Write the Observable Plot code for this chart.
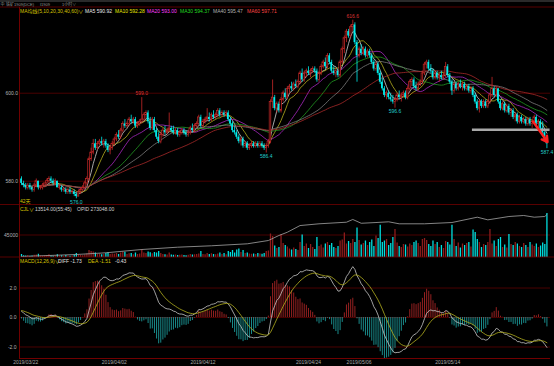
<!DOCTYPE html>
<html><head><meta charset="utf-8">
<script src="https://cdn.jsdelivr.net/npm/d3@7"></script>
<script src="https://cdn.jsdelivr.net/npm/@observablehq/plot@0.6"></script>
<style>
html,body{margin:0;padding:0;background:#000;}
#c{position:relative;width:554px;height:366px;background:#000;overflow:hidden;}
#c svg{position:absolute;left:0;}
</style></head><body><div id="c"></div>
<script>
const FONT = '"Liberation Sans","Noto Sans CJK SC",sans-serif';
// [open, high, low, close] per hourly bar
const bars = [
[580.5,581.0,579.0,579.5],[579.5,580.0,578.5,579.0],[579.0,579.5,578.0,578.5],[578.5,579.5,578.0,579.0],[579.0,579.5,578.0,578.5],
[578.5,579.0,577.5,578.0],[578.0,579.5,577.5,579.0],[579.0,580.5,578.5,580.0],[580.0,580.0,578.0,578.5],[578.5,579.0,578.0,578.5],
[578.5,579.5,578.0,579.0],[579.0,579.5,578.5,579.5],[579.5,580.5,579.0,580.0],[580.0,581.0,579.5,580.5],[580.5,581.0,579.5,580.0],
[580.0,580.5,579.0,579.5],[579.5,580.5,579.0,580.0],[580.0,580.0,578.5,578.5],[578.5,579.0,578.0,578.5],[578.5,579.0,577.5,578.0],
[578.0,578.5,577.5,578.0],[578.0,578.5,577.0,577.5],[577.5,578.5,577.0,578.0],[578.0,578.5,577.0,577.5],[577.5,578.0,577.0,577.5],
[577.5,578.0,576.5,577.0],[577.0,577.5,576.0,576.5],[576.5,578.0,576.5,577.5],[577.5,578.5,577.0,578.0],[578.0,579.0,577.5,578.5],
[578.5,580.0,578.0,579.5],[579.5,581.0,579.0,580.5],[580.5,585.5,580.0,585.0],[585.0,587.5,584.5,586.5],[586.5,589.5,586.0,588.5],
[588.5,589.5,587.0,587.5],[587.5,589.0,587.0,588.5],[588.5,589.5,588.0,589.0],[589.0,590.0,588.0,588.5],[588.5,589.5,587.5,589.0],
[589.0,589.5,587.5,588.0],[588.0,588.5,586.5,587.0],[587.0,588.0,586.0,587.5],[587.5,589.0,587.0,588.5],[588.5,590.0,588.0,589.5],
[589.5,591.0,589.0,590.5],[590.5,591.5,589.5,590.0],[590.0,592.0,589.5,591.5],[591.5,593.5,591.0,593.0],[593.0,594.0,592.0,592.5],
[592.5,593.5,592.0,593.0],[593.0,594.5,592.5,594.0],[594.0,595.0,593.0,593.5],[593.5,594.5,593.0,594.0],[594.0,594.5,592.0,592.5],
[592.5,593.5,592.0,593.0],[593.0,594.0,592.5,593.5],[593.5,599.0,593.0,594.0],[594.0,595.5,593.5,595.0],[595.0,596.0,594.0,595.5],
[595.5,596.0,593.0,593.5],[593.5,594.5,591.5,592.0],[592.0,594.5,591.5,594.0],[594.0,594.5,591.0,591.5],[591.5,592.0,589.5,590.0],
[590.0,591.0,588.5,589.0],[589.0,591.0,588.5,590.5],[590.5,592.0,590.0,591.5],[591.5,592.5,590.5,591.0],[591.0,592.0,590.5,591.5],
[591.5,595.5,591.0,592.0],[592.0,592.5,591.0,591.5],[591.5,592.5,590.5,591.0],[591.0,592.0,590.5,591.5],[591.5,592.0,590.0,590.5],
[590.5,591.5,590.0,591.0],[591.0,592.0,590.5,591.5],[591.5,592.0,590.5,591.0],[591.0,591.5,590.0,590.5],[590.5,591.5,590.0,591.0],
[591.0,592.5,590.5,592.0],[592.0,593.0,591.0,591.5],[591.5,593.0,591.0,592.5],[592.5,593.5,592.0,593.0],[593.0,595.0,592.5,594.5],
[594.5,595.0,592.0,592.5],[592.5,594.0,592.0,593.5],[593.5,594.5,593.0,594.0],[594.0,596.5,593.5,594.5],[594.5,595.5,593.5,594.0],
[594.0,595.5,593.5,595.0],[595.0,596.0,594.0,594.5],[594.5,595.5,594.0,595.0],[595.0,596.5,594.5,596.0],[596.0,596.5,594.5,595.0],
[595.0,596.0,594.5,595.5],[595.5,596.0,594.5,595.0],[595.0,596.0,594.5,595.5],[595.5,596.0,593.5,594.0],[594.0,594.5,592.5,593.0],
[593.0,593.5,591.0,591.5],[591.5,592.5,590.5,591.0],[591.0,591.5,589.5,590.0],[590.0,590.5,588.5,589.0],[589.0,590.0,588.0,589.5],
[589.5,590.0,587.5,588.0],[588.0,589.0,587.5,588.5],[588.5,589.0,587.0,587.5],[587.5,588.5,587.0,588.0],[588.0,589.0,587.5,588.5],
[588.5,589.0,587.5,588.0],[588.0,589.0,587.5,588.5],[588.5,589.0,587.5,588.0],[588.0,589.0,587.5,588.5],[588.5,589.0,587.5,588.0],
[588.0,588.5,587.0,587.5],[587.5,588.5,586.4,588.0],[588.0,589.5,587.5,589.0],[589.0,598.5,588.5,598.0],[598.0,603.0,596.5,599.0],
[599.0,599.5,596.0,596.5],[596.5,598.0,595.5,597.5],[597.5,598.0,595.5,596.0],[596.0,599.0,595.5,598.5],[598.5,600.5,598.0,600.0],
[600.0,601.0,598.5,599.0],[599.0,601.5,598.5,601.0],[601.0,602.0,600.0,601.5],[601.5,602.5,600.5,601.0],[601.0,602.5,600.5,602.0],
[602.0,603.0,601.0,601.5],[601.5,603.0,601.0,602.5],[602.5,605.0,602.0,604.5],[604.5,605.5,602.5,603.0],[603.0,605.0,602.5,604.5],
[604.5,605.5,603.5,605.0],[605.0,606.0,604.0,604.5],[604.5,605.5,603.5,605.0],[605.0,606.0,604.5,605.5],[605.5,606.0,604.5,605.0],
[605.0,605.5,602.5,603.0],[603.0,605.0,602.5,604.5],[604.5,606.5,604.0,606.0],[606.0,607.5,605.5,607.0],[607.0,608.0,605.5,606.0],
[606.0,609.0,605.5,608.5],[608.5,609.0,606.5,607.0],[607.0,607.5,604.5,605.0],[605.0,606.0,604.0,604.5],[604.5,605.5,603.5,605.0],
[605.0,605.5,603.5,604.0],[604.0,607.5,603.5,607.0],[607.0,610.5,606.5,610.0],[610.0,613.0,609.0,612.5],[612.5,614.5,611.5,614.0],
[614.0,614.5,612.5,613.0],[613.0,615.5,612.5,615.0],[615.0,616.6,614.0,615.5],[615.5,616.0,611.0,611.5],[611.5,612.0,602.5,608.5],
[608.5,610.5,608.0,610.0],[610.0,611.0,608.5,609.0],[609.0,610.5,608.5,610.0],[610.0,610.5,608.0,608.5],[608.5,610.0,608.0,609.5],
[609.5,610.0,608.0,608.5],[608.5,609.0,606.5,607.0],[607.0,607.5,605.0,605.5],[605.5,607.0,605.0,606.5],[606.5,607.0,604.0,604.5],
[604.5,605.0,602.0,602.5],[602.5,603.5,600.5,601.0],[601.0,601.5,599.0,599.5],[599.5,600.5,598.5,600.0],[600.0,600.5,598.5,599.0],
[599.0,600.0,598.0,598.5],[598.5,599.5,597.5,598.0],[598.0,599.0,596.6,598.5],[598.5,600.0,598.0,599.5],[599.5,600.5,598.5,599.0],
[599.0,600.0,598.0,599.5],[599.5,600.5,599.0,600.0],[600.0,600.5,598.5,599.0],[599.0,601.5,598.5,601.0],[601.0,603.0,600.5,602.5],
[602.5,603.5,601.5,603.0],[603.0,603.5,601.0,601.5],[601.5,602.5,600.5,601.0],[601.0,602.5,600.5,602.0],[602.0,603.0,601.5,602.5],
[602.5,605.0,602.0,604.5],[604.5,607.0,604.0,606.5],[606.5,607.5,605.5,607.0],[607.0,607.5,605.0,605.5],[605.5,606.5,604.5,605.0],
[605.0,605.5,603.0,603.5],[603.5,605.0,603.0,604.5],[604.5,605.0,603.0,603.5],[603.5,604.5,602.5,604.0],[604.0,605.0,603.0,603.5],
[603.5,604.5,603.0,604.0],[604.0,607.0,603.5,606.0],[606.0,606.5,603.5,604.0],[604.0,604.5,602.0,602.5],[602.5,603.0,599.5,600.5],
[600.5,602.5,600.0,602.0],[602.0,602.5,600.5,601.0],[601.0,602.5,600.5,602.0],[602.0,603.0,601.0,601.5],[601.5,602.5,600.5,602.0],
[602.0,602.5,600.5,601.0],[601.0,602.0,600.5,601.5],[601.5,602.0,600.0,600.5],[600.5,601.5,600.0,601.0],[601.0,601.5,599.0,599.5],
[599.5,600.0,597.5,598.0],[598.0,598.5,596.0,596.5],[596.5,598.5,595.5,598.0],[598.0,598.5,596.5,597.0],[597.0,598.5,596.5,598.0],
[598.0,598.5,596.5,597.0],[597.0,598.5,596.5,598.0],[598.0,600.0,597.5,599.5],[599.5,603.6,599.0,601.0],[601.0,601.5,599.0,599.5],
[599.5,601.5,599.0,601.0],[601.0,601.0,597.5,598.0],[598.0,598.5,596.0,596.5],[596.5,598.0,596.0,597.5],[597.5,598.0,595.5,596.0],
[596.0,597.5,595.5,597.0],[597.0,597.5,595.0,595.5],[595.5,596.5,594.5,596.0],[596.0,596.5,594.0,594.5],[594.5,595.5,593.5,595.0],
[595.0,595.5,593.0,593.5],[593.5,595.0,593.0,594.5],[594.5,595.0,593.0,593.5],[593.5,594.5,593.0,594.0],[594.0,594.5,592.5,593.0],
[593.0,594.5,592.5,594.0],[594.0,594.5,592.5,593.0],[593.0,594.0,592.0,593.5],[593.5,595.0,593.0,594.5],[594.5,595.0,592.5,593.0],
[593.0,594.0,592.0,593.5],[593.5,594.0,591.5,592.0],[592.0,593.5,590.5,591.0],[591.0,591.5,589.0,589.5],[589.5,590.0,587.4,588.5]
];
const volumes = [
6000,3500,3000,4000,2500,3000,4500,5000,6500,3000,
2500,3000,4000,5500,3000,2500,3000,5500,3000,3500,
2500,4000,3000,2500,3000,4500,8000,5000,4000,3500,
5000,7000,14000,12000,11000,9000,6000,7000,5500,6000,
8000,9500,6000,7000,6500,8000,6000,9000,11000,10500,
6000,7500,8000,5500,9000,6000,7000,16000,9000,8000,
11000,9500,7500,10000,9000,12000,8000,6000,5500,5000,
9000,5000,4500,5000,4000,4500,5000,4000,3500,4500,
6000,5000,5500,6000,7000,12000,6000,5500,8000,6000,
7500,6000,5500,7000,9000,6000,8000,5500,12000,10000,
14000,9000,15000,17000,10000,14000,8000,9000,7000,6500,
7000,6000,8000,7000,6500,8000,12000,13000,47000,42000,
23000,18000,20000,46000,28000,24000,21000,17000,15000,19000,
16000,14000,30000,45000,22000,27000,18000,26000,20000,16000,
40000,22000,25000,19000,27000,30000,24000,28000,20000,18000,
22000,33000,35000,49000,27000,32000,28000,36000,30000,59000,
34000,25000,28000,33000,24000,30000,35000,22000,43000,38000,
64500,30000,33000,36000,24000,28000,40000,56000,29000,22000,
20000,26000,25000,21000,27000,24000,30000,33000,28000,22000,
36000,38000,34000,26000,22000,33000,26000,30000,20000,24000,
18000,32000,30000,25000,64500,36000,22000,29000,19000,27000,
24000,28000,30000,21000,55000,50000,36000,30000,20000,26000,
24000,30000,56000,27000,33000,22000,36000,40000,20000,25000,
19000,46000,26000,24000,30000,27000,22000,20000,28000,24000,
20000,30000,25000,22000,27000,20000,23000,29000,26000,88000
];
// open interest, read at sample bars
const opiIdx = [0,26,40,57,74,90,107,117,122,126,132,141,154,157,161,168,174,179,191,204,216,221,231,238,243,248,249];
const opiVal = [162600,167900,172400,181000,187100,190800,196000,204700,217900,226500,244000,248600,252800,260000,250000,252000,253900,248600,248600,252000,266000,259000,267800,270500,266000,267800,273048];
const dateTicks = [2, 44, 86, 136, 160, 202];
const dateLabels = ["2019/03/22","2019/04/02","2019/04/12","2019/04/24","2019/05/06","2019/05/14"];
const priceTicks = [580, 600];
const volTicks = [45000];
const macdTicks = [-2, 0, 2];
const highMarks = [{i:57, p:599.0}, {i:157, p:616.6}];
const lowMarks = [{i:26, p:576.0}, {i:116, p:586.4}, {i:177, p:596.6}, {i:249, p:587.4}];
const supportLine = [{i1:213.7, i2:250.5, p:591.7}];
const drawnArrow = [{i1:242.5, p1:593.5, i2:249.3, p2:588.9}];
const maPeriods = [5, 10, 20, 30, 40, 60];
const maLineColors = ["#d0d0d0","#b8b020","#a828c0","#229a22","#7c7c7c","#a82a2a"];
const maHeadColors = ["#e8e8e8","#e6e600","#ff3cff","#22dd22","#b0b0b0","#ff4444"];
const maHeadValues = ["590.92","592.28","593.00","594.37","595.47","597.71"];
const macdSeed = {ema12: 580.05, ema26: 579.55, dea: 0.48};

const data = bars.map(([o,h,l,c], i) => ({i, o, h, l, c, up: c >= o, v: volumes[i]}));
const upBars = data.filter(d => d.up), dnBars = data.filter(d => !d.up);
const macd = [];
{ let e12 = macdSeed.ema12, e26 = macdSeed.ema26, dea = macdSeed.dea;
  for (const d of data) {
    e12 += (d.c - e12) * 2 / 13; e26 += (d.c - e26) * 2 / 27;
    const diff = e12 - e26; dea += (diff - dea) * 2 / 10;
    macd.push({i: d.i, diff, dea, hist: 2 * (diff - dea)});
  } }
const opi = opiIdx.map((i, k) => ({i, v: opiVal[k]}));

const xDom = [-0.95, 250.7];
const common = (h, extra = {}) => Object.assign({
  width: 554, height: h, marginLeft: 19, marginRight: 4, marginTop: 0, marginBottom: 0,
  style: {background: "transparent", color: "#b4b4b4", fontFamily: FONT, fontSize: "5px", overflow: "visible"},
  x: {domain: xDom, axis: null}
}, extra);
const UP = "#c82828", DN = "#00eeee", GRID = "#4a0000", FRAME = "#700000";

const price = Plot.plot(common(198, {
  y: {domain: [574.48, 619.48], axis: null},
  marks: [
    Plot.ruleY(priceTicks, {stroke: GRID}),
    Plot.text(priceTicks, {y: d => d, text: d => d.toFixed(1), frameAnchor: "left", textAnchor: "end", dx: -1.5, fill: "#b4b4b4"}),
    ...maPeriods.map((k, j) => Plot.lineY(data, Plot.windowY({k, anchor: "end"}, {x: "i", y: "c", stroke: maLineColors[j], strokeWidth: 0.8}))),
    Plot.ruleX(data, {x: "i", y1: "l", y2: "h", stroke: d => d.up ? UP : DN, strokeWidth: 0.8}),
    Plot.rect(upBars, {x1: d => d.i - 0.38, x2: d => d.i + 0.38, y1: "o", y2: d => d.c === d.o ? d.c + 0.1 : d.c, fill: "#000", stroke: UP, strokeWidth: 0.7}),
    Plot.rect(dnBars, {x1: d => d.i - 0.4, x2: d => d.i + 0.4, y1: "o", y2: "c", fill: DN}),
    Plot.ruleY(supportLine, {x1: "i1", x2: "i2", y: "p", stroke: "#a8a8a8", strokeWidth: 2.4}),
    Plot.arrow(drawnArrow, {x1: "i1", y1: "p1", x2: "i2", y2: "p2", stroke: "#ff2020", strokeWidth: 2.4, headLength: 4, bend: 0}),
    Plot.text(highMarks, {x: "i", y: "p", text: d => d.p.toFixed(1), dy: -4, fill: "#dd3333"}),
    Plot.text(lowMarks, {x: "i", y: "p", text: d => d.p.toFixed(1), dy: 3.5, fill: "#22cccc"}),
    Plot.ruleX([xDom[0]], {stroke: FRAME})
  ]
}));
price.style.top = "7px";

const vol = Plot.plot(common(52, {
  y: {domain: [0, 104000], axis: null},
  marks: [
    Plot.ruleY(volTicks, {stroke: GRID}),
    Plot.text(volTicks, {y: d => d, text: d => String(d), frameAnchor: "left", textAnchor: "end", dx: -1.5, fill: "#b4b4b4"}),
    Plot.ruleX(data, {x: "i", y1: 0, y2: "v", stroke: d => d.up ? "#8e1c1c" : "#00dede", strokeWidth: 1.3}),
    Plot.ruleX([xDom[0]], {stroke: FRAME})
  ]
}));
vol.style.top = "205px";

const opiPlot = Plot.plot(common(52, {
  y: {domain: [160000, 296760], axis: null},
  marks: [Plot.line(opi, {x: "i", y: "v", stroke: "#a4a4a4", strokeWidth: 0.8})]
}));
opiPlot.style.top = "205px";

const macdPlot = Plot.plot(common(109, {
  marginBottom: 8,
  y: {domain: [-2.78, 4.07], axis: null},
  marks: [
    Plot.ruleY(macdTicks, {stroke: GRID}),
    Plot.text(macdTicks, {y: d => d, text: d => d.toFixed(1), frameAnchor: "left", textAnchor: "end", dx: -3, fill: "#b4b4b4"}),
    Plot.ruleX(macd, {x: "i", y1: 0, y2: "hist", stroke: d => d.hist >= 0 ? "#a52424" : "#1c9a9a", strokeWidth: 0.9}),
    Plot.line(macd, {x: "i", y: "diff", stroke: "#c8c8c8", strokeWidth: 0.8}),
    Plot.line(macd, {x: "i", y: "dea", stroke: "#b4b020", strokeWidth: 0.8}),
    Plot.text(dateTicks, {x: d => d, text: (d, k) => dateLabels[k], frameAnchor: "bottom", dy: 5, fill: "#a8a8a8"}),
    Plot.ruleX([xDom[0]], {stroke: FRAME}),
    Plot.ruleY([-2.78], {stroke: FRAME})
  ]
}));
macdPlot.style.top = "257px";

const root = document.getElementById("c");
root.append(price, vol, opiPlot, macdPlot);

// header / legend overlay
const svg = d3.select(root).append("svg").attr("width", 554).attr("height", 366)
  .style("top", "0px").style("font-family", FONT).style("font-size", "5px").style("pointer-events", "none");
svg.append("rect").attr("x", 0).attr("y", 0).attr("width", 554).attr("height", 2).attr("fill", "#2a2a2a");
[[7, 0], [204.5, 0], [257, 0]].forEach(([y, x0]) =>
  svg.append("line").attr("x1", x0).attr("x2", 554).attr("y1", y).attr("y2", y).attr("stroke", FRAME).attr("stroke-width", 0.8));
const txt = (x, y, s, fill, size) => {
  const t = svg.append("text").attr("x", x).attr("y", y).attr("fill", fill).text(s);
  if (size) t.style("font-size", size);
  return t;
};
txt(0.5, 5.6, "中", "#9a9a9a", "4px");
txt(6, 5.6, "铁矿1909(DCE)", "#9a9a9a", "4px");
txt(40, 5.6, "I1909", "#9a9a9a", "4px");
txt(62, 5.6, "1小时∨", "#9a9a9a", "4px");
txt(20, 12.6, "MA均线(5,10,20,30,40,60)∨", "#d6c400");
const maX = [85, 115, 147, 180, 213, 247];
maPeriods.forEach((k, j) => txt(maX[j], 12.6, `MA${k} ${maHeadValues[j]}`, maHeadColors[j]));
txt(20, 202.8, "42天", "#d6c400");
txt(20, 211, "CJL∨", "#d6c400");
txt(35, 211, "13514.00(55:45)", "#d0d0d0");
txt(77, 211, "OPID 273048.00", "#d0d0d0");
txt(20, 262.8, "MACD(12,26,9)∨", "#d6c400");
txt(58, 262.8, "DIFF -1.73", "#e0e0e0");
txt(88, 262.8, "DEA -1.51", "#d6c400");
txt(115, 262.8, "-0.43", "#e0e0e0");
</script></body></html>
